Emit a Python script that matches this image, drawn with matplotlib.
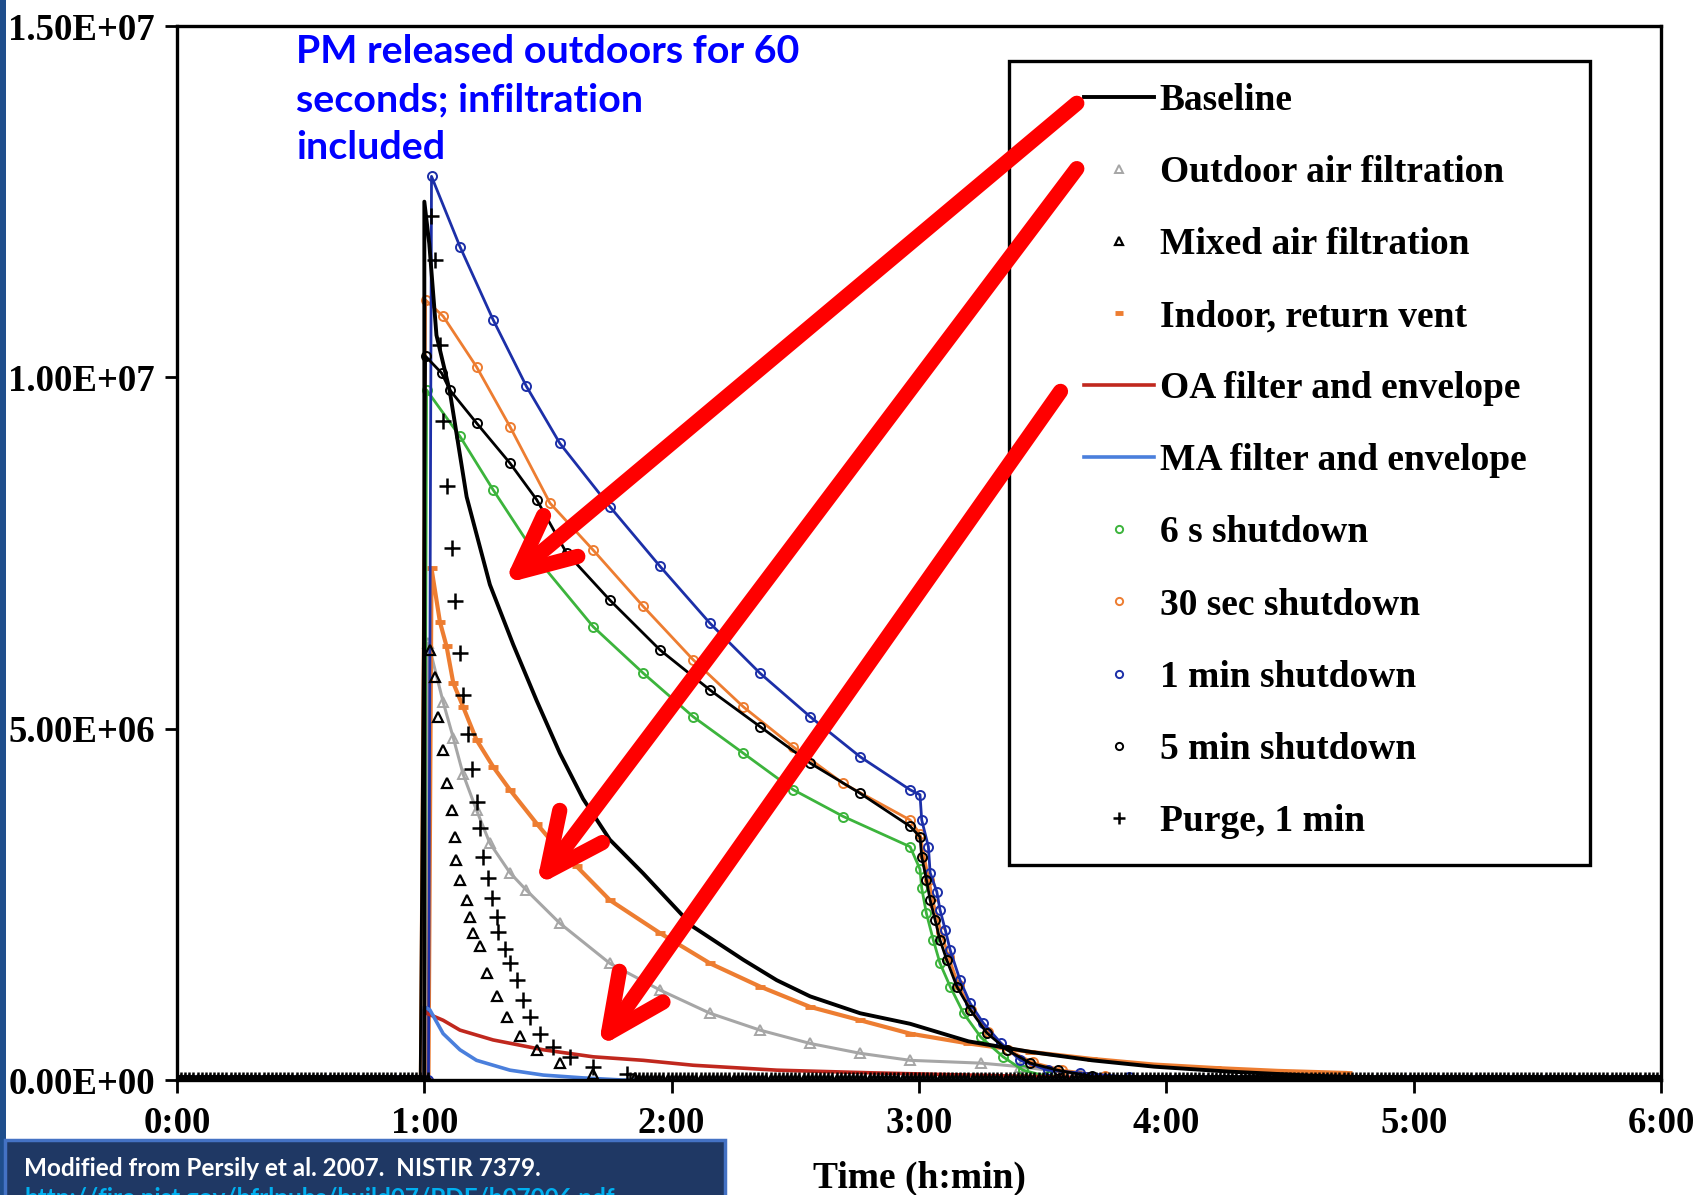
import numpy as np
import matplotlib.pyplot as plt
from matplotlib.patches import Rectangle

# time in hours (axis is h:min), concentration in millions
# Baseline (solid black line)
base_t = [0, 1.0, 1.0, 1.02, 1.049, 1.103, 1.171, 1.265, 1.359, 1.454, 1.548, 1.642, 1.75, 1.885,
          2.087, 2.29, 2.425, 2.56, 2.762, 2.964, 3.2, 3.45, 3.7, 3.95, 4.25, 4.6, 5.0, 5.5, 6.0]
base_v = [0, 0, 12.5, 11.9, 10.6, 9.8, 8.3, 7.05, 6.2, 5.4, 4.65, 4.0, 3.42, 2.94,
          2.18, 1.71, 1.42, 1.19, 0.95, 0.8, 0.55, 0.4, 0.28, 0.19, 0.12, 0.06, 0.02, 0, 0]

# Outdoor air filtration (grey triangles)
oaf_t = [1.016, 1.076, 1.117, 1.157, 1.211, 1.265, 1.346, 1.413, 1.548, 1.75, 1.953, 2.155,
         2.357, 2.56, 2.762, 2.964, 3.25, 3.41, 3.65, 3.85]
oaf_v = [6.22, 5.38, 4.87, 4.35, 3.84, 3.37, 2.95, 2.70, 2.23, 1.66, 1.28, 0.95,
         0.71, 0.52, 0.38, 0.28, 0.24, 0.19, 0.08, 0.03]

# Mixed air filtration (black triangles)
maf_t = [1.022, 1.043, 1.056, 1.076, 1.09, 1.110, 1.123, 1.130, 1.144, 1.171, 1.184, 1.198,
         1.225, 1.252, 1.292, 1.333, 1.386, 1.454, 1.548, 1.683, 1.85]
maf_v = [6.12, 5.74, 5.17, 4.70, 4.22, 3.84, 3.46, 3.13, 2.85, 2.56, 2.32, 2.09,
         1.90, 1.52, 1.19, 0.90, 0.62, 0.43, 0.24, 0.09, 0.03]

# Indoor, return vent (orange dashes)
ind_t = [1.029, 1.063, 1.09, 1.117, 1.157, 1.211, 1.278, 1.346, 1.454, 1.521, 1.616, 1.75,
         1.953, 2.155, 2.357, 2.56, 2.762, 2.964, 3.2, 3.45, 3.7, 3.95, 4.2, 4.45, 4.73]
ind_v = [7.28, 6.52, 6.17, 5.65, 5.31, 4.84, 4.46, 4.13, 3.65, 3.37, 3.04, 2.56,
         2.09, 1.66, 1.33, 1.04, 0.85, 0.66, 0.52, 0.40, 0.30, 0.22, 0.17, 0.13, 0.10]

# OA filter and envelope (red line)
oae_t = [0, 1.0, 1.0, 1.009, 1.076, 1.144, 1.278, 1.481, 1.683, 1.885, 2.087, 2.425, 2.83,
         3.2, 3.6, 4.0, 4.5, 6.0]
oae_v = [0, 0, 1.0, 0.95, 0.85, 0.71, 0.57, 0.43, 0.33, 0.28, 0.21, 0.14, 0.10,
         0.07, 0.04, 0.02, 0, 0]

# MA filter and envelope (blue line)
mae_t = [0, 1.0, 1.0, 1.022, 1.076, 1.144, 1.211, 1.346, 1.481, 1.642, 1.8, 6.0]
mae_v = [0, 0, 1.04, 1.0, 0.66, 0.43, 0.28, 0.14, 0.07, 0.03, 0, 0]

# 6 s shutdown (green circles)
s6_t = [1.009, 1.144, 1.278, 1.481, 1.683, 1.885, 2.087, 2.29, 2.492, 2.694, 2.964, 3.004,
        3.011, 3.03, 3.058, 3.085, 3.126, 3.18, 3.25, 3.34, 3.42, 3.52, 3.65]
s6_v = [9.82, 9.16, 8.40, 7.31, 6.45, 5.79, 5.17, 4.65, 4.13, 3.75, 3.32, 3.0,
        2.73, 2.37, 1.99, 1.66, 1.33, 0.95, 0.61, 0.33, 0.14, 0.05, 0.01]

# 30 sec shutdown (orange circles)
s30_t = [1.005, 1.076, 1.211, 1.346, 1.508, 1.683, 1.885, 2.087, 2.29, 2.492, 2.694, 2.964,
         3.004, 3.02, 3.04, 3.06, 3.09, 3.12, 3.16, 3.21, 3.28, 3.36, 3.46, 3.58, 3.75]
s30_v = [11.1, 10.87, 10.15, 9.30, 8.21, 7.54, 6.74, 5.98, 5.31, 4.74, 4.22, 3.70,
         3.50, 3.2, 2.85, 2.5, 2.1, 1.75, 1.35, 1.0, 0.68, 0.43, 0.25, 0.14, 0.06]

# 1 min shutdown (dark blue circles)
m1_t = [1.029, 1.144, 1.278, 1.413, 1.548, 1.75, 1.953, 2.155, 2.357, 2.56, 2.762, 2.964,
        3.004, 3.011, 3.038, 3.045, 3.072, 3.085, 3.106, 3.126, 3.166, 3.207, 3.26, 3.33,
        3.41, 3.52, 3.65, 3.85]
m1_v = [12.86, 11.86, 10.82, 9.87, 9.06, 8.16, 7.31, 6.50, 5.79, 5.17, 4.60, 4.13,
        4.06, 3.70, 3.32, 2.95, 2.68, 2.42, 2.14, 1.85, 1.42, 1.09, 0.81, 0.53,
        0.28, 0.14, 0.10, 0.04]

# 5 min shutdown (black circles)
m5_t = [1.005, 1.07, 1.103, 1.211, 1.346, 1.454, 1.575, 1.75, 1.953, 2.155, 2.357, 2.56,
        2.762, 2.964, 3.004, 3.011, 3.03, 3.045, 3.065, 3.085, 3.112, 3.153, 3.207, 3.274,
        3.355, 3.45, 3.56, 3.7]
m5_v = [10.3, 10.06, 9.82, 9.35, 8.78, 8.26, 7.50, 6.83, 6.12, 5.55, 5.03, 4.51,
        4.08, 3.61, 3.46, 3.18, 2.85, 2.56, 2.28, 1.99, 1.71, 1.33, 1.00, 0.67,
        0.43, 0.24, 0.14, 0.05]

# Purge, 1 min (plus signs)
pg_t = [1.025, 1.043, 1.063, 1.075, 1.09, 1.110, 1.123, 1.144, 1.157, 1.177, 1.191, 1.211,
        1.225, 1.238, 1.258, 1.272, 1.292, 1.299, 1.326, 1.346, 1.373, 1.40, 1.427, 1.467,
        1.521, 1.589, 1.683, 1.818]
pg_v = [12.3, 11.67, 10.46, 9.38, 8.45, 7.57, 6.82, 6.08, 5.48, 4.92, 4.42, 3.96,
        3.58, 3.18, 2.87, 2.59, 2.32, 2.11, 1.87, 1.66, 1.42, 1.14, 0.90, 0.66,
        0.47, 0.33, 0.19, 0.09]

labels = ['Baseline', 'Outdoor air filtration', 'Mixed air filtration', 'Indoor, return vent',
          'OA filter and envelope', 'MA filter and envelope', '6 s shutdown', '30 sec shutdown',
          '1 min shutdown', '5 min shutdown', 'Purge, 1 min']
x_ticks = [0, 1, 2, 3, 4, 5, 6]
x_ticklabels = ['0:00', '1:00', '2:00', '3:00', '4:00', '5:00', '6:00']
y_ticks = [0, 5e6, 1e7, 1.5e7]

# one sample per minute: the model output sits on the zero line outside the decays
minutes = np.arange(0, 361) / 60.0


def on_zero_line(t, v):
    t = np.asarray(t, float)
    v = np.asarray(v, float) * 1e6
    pre = minutes[minutes < t[0] - 0.005]
    post = minutes[minutes > t[-1] + 0.005]
    return (np.concatenate([pre, t, post]),
            np.concatenate([np.zeros(pre.size), v, np.zeros(post.size)]))


plt.rcParams['font.family'] = ['Liberation Serif', 'DejaVu Serif']
plt.rcParams['font.weight'] = 'bold'

fig = plt.figure(figsize=(17.05, 11.95), dpi=100)
ax = fig.add_axes([177 / 1705, 1 - 1080 / 1195, 1484 / 1705, 1054 / 1195])

grey = '#a6a6a6'
orange = '#ed7d31'
green = '#3cb43c'
navy = '#1c2fa8'
red = '#c0281e'
lblue = '#4a7fdc'

# coloured marker series (line under the markers mimics the dense chain)
t, v = on_zero_line(oaf_t, oaf_v)
ax.plot(t, v, color=grey, lw=2.2, zorder=2)
h_oaf, = ax.plot(t, v, ls='none', marker='^', ms=7.5, mfc='none', mec=grey, mew=1.4, zorder=2)

t, v = on_zero_line(ind_t, ind_v)
ax.plot(t, v, color=orange, lw=3, zorder=2)
h_ind, = ax.plot(t, v, ls='none', marker='_', ms=7, mec=orange, mew=3.5, zorder=2)

t, v = on_zero_line(s6_t, s6_v)
ax.plot(t, v, color=green, lw=2, zorder=2)
h_s6, = ax.plot(t, v, ls='none', marker='o', ms=6.5, mfc='none', mec=green, mew=1.4, zorder=2)

t, v = on_zero_line(s30_t, s30_v)
ax.plot(t, v, color=orange, lw=2, zorder=2)
h_s30, = ax.plot(t, v, ls='none', marker='o', ms=6.5, mfc='none', mec=orange, mew=1.4, zorder=2)

t, v = on_zero_line(m1_t, m1_v)
ax.plot(t, v, color=navy, lw=2, zorder=2)
h_m1, = ax.plot(t, v, ls='none', marker='o', ms=6.5, mfc='none', mec=navy, mew=1.4, zorder=2)

# solid lines
h_oae, = ax.plot(oae_t, np.array(oae_v) * 1e6, color=red, lw=2.6, zorder=2.5)
h_mae, = ax.plot(mae_t, np.array(mae_v) * 1e6, color=lblue, lw=2.6, zorder=2.5)

# black series on top
t, v = on_zero_line(m5_t, m5_v)
ax.plot(t, v, color='black', lw=2, zorder=3)
h_m5, = ax.plot(t, v, ls='none', marker='o', ms=6.5, mfc='none', mec='black', mew=1.4, zorder=3)

t, v = on_zero_line(maf_t, maf_v)
h_maf, = ax.plot(t, v, ls='none', marker='^', ms=7.5, mfc='none', mec='black', mew=1.6, zorder=3)

t, v = on_zero_line(pg_t, pg_v)
h_pg, = ax.plot(t, v, ls='none', marker='+', ms=11, mec='black', mew=1.8, zorder=3)

h_base, = ax.plot(base_t, np.array(base_v) * 1e6, color='black', lw=2.8, zorder=3.5)

# axes
ax.set_xlim(0, 6)
ax.set_ylim(0, 1.5e7)
ax.set_xticks(x_ticks)
ax.set_xticklabels(x_ticklabels)
ax.set_yticks(y_ticks)
ax.set_yticklabels([f'{y:.2E}' for y in y_ticks])
ax.tick_params(direction='out', length=9, width=2, labelsize=26.5, colors='black')
ax.tick_params(axis='y', pad=7)
ax.tick_params(axis='x', pad=10)
for s in ax.spines.values():
    s.set_linewidth(2.4)
ax.set_xlabel('Time (h:min)', fontsize=27, fontweight='bold', labelpad=14)

# legend with its own frame
ax.add_patch(Rectangle((0.5606, 0.204), 0.3916, 0.7628, transform=ax.transAxes,
                       facecolor='white', edgecolor='black', lw=2.4, zorder=4))
handles = [h_base, h_oaf, h_maf, h_ind, h_oae, h_mae, h_s6, h_s30, h_m1, h_m5, h_pg]
leg = ax.legend(handles, labels, loc='upper left', bbox_to_anchor=(0.5984, 0.964),
                frameon=False, borderpad=0, handlelength=1.87, handletextpad=0.15,
                labelspacing=0.99, numpoints=1, markerscale=0.8,
                prop=dict(family='Liberation Serif', weight='bold', size=27))
leg.set_zorder(5)

# red arrows
arrow_tails = [(3.638, 13.9e6), (3.638, 12.97e6), (3.572, 9.8e6)]
arrow_tips = [(1.32, 7.06e6), (1.452, 2.76e6), (1.703, 0.46e6)]
for tail, tip in zip(arrow_tails, arrow_tips):
    ax.annotate('', xy=tip, xytext=tail, zorder=6,
                arrowprops=dict(arrowstyle='->,head_length=0.85,head_width=0.4', color='#ff0000',
                                lw=11, mutation_scale=48, shrinkA=0, shrinkB=0))

# annotation text
fig.text(296 / 1705, 1 - 34 / 1195, 'PM released outdoors for 60\nseconds; infiltration\nincluded',
         color='#0000ff', family='Lato', fontweight='bold', fontsize=28.4, va='top', ha='left',
         linespacing=1.45)

# slide decorations: left strip and source box
fig.add_artist(Rectangle((0, 0), 6 / 1705, 1, transform=fig.transFigure,
                         facecolor='#1f4e8c', edgecolor='none'))
fig.add_artist(Rectangle((5 / 1705, -0.02), 720 / 1705, 0.02 + 1 - 1140 / 1195,
                         transform=fig.transFigure, facecolor='#1f3864', edgecolor='#4472c4', lw=2.5))
fig.text(24 / 1705, 1 - 1168 / 1195, 'Modified from Persily et al. 2007.  NISTIR 7379.',
         color='white', family='Lato', fontweight='bold', fontsize=17.5, va='center', ha='left')
fig.text(24 / 1705, 1 - 1199 / 1195, 'http://fire.nist.gov/bfrlpubs/build07/PDF/b07006.pdf',
         color='#00b0f0', family='Lato', fontweight='bold', fontsize=17.5, va='center', ha='left')

fig.savefig('out.png', dpi=100)
